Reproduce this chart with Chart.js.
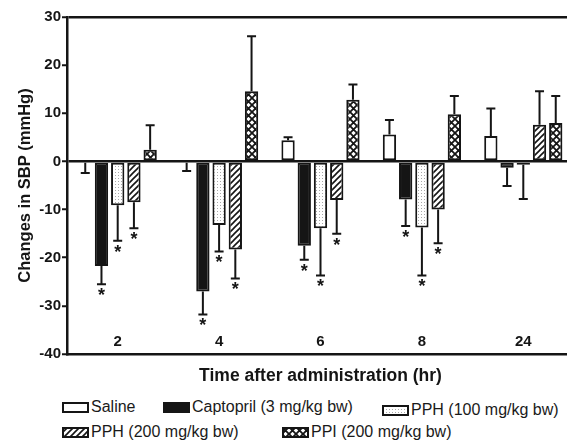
<!DOCTYPE html>
<html>
<head>
<meta charset="utf-8">
<script src="https://cdn.jsdelivr.net/npm/chart.js@4/dist/chart.umd.min.js"></script>
<style>
    body { margin: 0; width: 567px; height: 443px; overflow: hidden; background: #fff; position: relative;
           font-family: "Liberation Sans", Arial, sans-serif; }
    #wrap { position: absolute; left: 0; top: 0; width: 574px; height: 392px; }
    .item { position: absolute; display: flex; align-items: center; font-size: 16px; color: #1a1a1a; white-space: nowrap; height: 16px; }
    .item canvas { margin-right: 2px; }
</style>
</head>
<body>
<div id="wrap"><canvas id="chart" width="574" height="392"></canvas></div>
<div id="legend"></div>
<script>
const timePoints = ["2", "4", "6", "8", "24"];
const seriesNames = ["Saline", "Captopril (3 mg/kg bw)", "PPH (100 mg/kg bw)", "PPH (200 mg/kg bw)", "PPI (200 mg/kg bw)"];
const yTicks = [-40, -30, -20, -10, 0, 10, 20, 30];

// mean change and SEM for each group
const saline = [-0.3, -0.3, 4.4, 5.6, 5.3];
const salineErr = [2.1, 1.7, 0.6, 3.0, 5.7];
const captopril = [-21.7, -27.0, -17.5, -7.9, -1.3];
const captoprilErr = [3.8, 4.8, 2.9, 5.5, 3.8];
const pph100 = [-9.1, -13.2, -13.9, -13.7, -0.7];
const pph100Err = [7.4, 5.5, 9.8, 10.0, 7.1];
const pph200 = [-8.5, -18.3, -8.0, -10.0, 7.6];
const pph200Err = [5.4, 6.0, 7.0, 7.0, 7.0];
const ppi = [2.4, 14.6, 12.8, 9.8, 8.0];
const ppiErr = [5.1, 11.4, 3.2, 3.8, 5.6];

// significance marks (*)
const salineSig = [false, false, false, false, false];
const captoprilSig = [true, true, true, true, false];
const pph100Sig = [true, true, true, true, false];
const pph200Sig = [true, true, true, true, false];
const ppiSig = [false, false, false, false, false];

const ink = "#151515";
const fontFamily = "'Liberation Sans', Arial, sans-serif";

function makePattern(kind) {
    const c = document.createElement("canvas");
    const g = c.getContext("2d");
    if (kind === "dots") {
        c.width = 3; c.height = 3;
        g.fillStyle = "#fff"; g.fillRect(0, 0, 3, 3);
        g.fillStyle = "#a8a8a8"; g.fillRect(1, 1, 1, 1);
    } else if (kind === "hatch") {
        c.width = 6; c.height = 6;
        g.fillStyle = "#fff"; g.fillRect(0, 0, 6, 6);
        g.strokeStyle = ink; g.lineWidth = 1.6;
        g.beginPath();
        g.moveTo(-1, 7); g.lineTo(7, -1);
        g.moveTo(-1, 1); g.lineTo(1, -1);
        g.moveTo(5, 7); g.lineTo(7, 5);
        g.stroke();
    } else if (kind === "cross") {
        c.width = 7; c.height = 7;
        g.fillStyle = "#fff"; g.fillRect(0, 0, 7, 7);
        g.strokeStyle = ink; g.lineWidth = 1.8;
        g.beginPath();
        g.moveTo(0, 0); g.lineTo(7, 7);
        g.moveTo(7, 0); g.lineTo(0, 7);
        g.stroke();
    }
    return g.createPattern(c, "repeat");
}

const fills = ["#fff", ink, makePattern("dots"), makePattern("hatch"), makePattern("cross")];
const values = [saline, captopril, pph100, pph200, ppi];
const errors = [salineErr, captoprilErr, pph100Err, pph200Err, ppiErr];
const sigs = [salineSig, captoprilSig, pph100Sig, pph200Sig, ppiSig];

const datasets = seriesNames.map((name, i) => ({
    label: name,
    data: values[i],
    errors: errors[i],
    sig: sigs[i],
    backgroundColor: fills[i],
    borderColor: ink,
    borderWidth: 2,
    borderSkipped: false,
    barPercentage: 0.82,
    categoryPercentage: 0.8
}));

// error bars pointing away from zero, with * under the significant ones
const errorBarPlugin = {
    id: "errorBars",
    afterDatasetsDraw(chart) {
        const ctx = chart.ctx;
        const y = chart.scales.y;
        chart.data.datasets.forEach((ds, i) => {
            const meta = chart.getDatasetMeta(i);
            meta.data.forEach((bar, j) => {
                const v = ds.data[j];
                const end = v < 0 ? v - ds.errors[j] : v + ds.errors[j];
                const yEnd = y.getPixelForValue(end);
                ctx.save();
                ctx.strokeStyle = ink;
                ctx.lineWidth = 2;
                ctx.beginPath();
                ctx.moveTo(bar.x, bar.y);
                ctx.lineTo(bar.x, yEnd);
                ctx.moveTo(bar.x - 4.5, yEnd);
                ctx.lineTo(bar.x + 4.5, yEnd);
                ctx.stroke();
                if (ds.sig[j]) {
                    ctx.fillStyle = ink;
                    ctx.font = "bold 18px " + fontFamily;
                    ctx.textAlign = "center";
                    ctx.textBaseline = "top";
                    ctx.fillText("*", bar.x, yEnd + 3);
                }
                ctx.restore();
            });
        });
    }
};

new Chart(document.getElementById("chart").getContext("2d"), {
    type: "bar",
    data: { labels: timePoints, datasets: datasets },
    plugins: [errorBarPlugin],
    options: {
        responsive: false,
        devicePixelRatio: 1,
        animation: false,
        layout: { padding: { top: 17, left: 16, right: 0, bottom: 0 } },
        plugins: { legend: { display: false }, tooltip: { enabled: false } },
        scales: {
            x: {
                grid: { display: false },
                border: { color: ink, width: 2.5 },
                ticks: { color: ink, font: { family: fontFamily, size: 15, weight: "bold" }, mirror: true, padding: 3 },
                title: {
                    display: true,
                    text: "Time after administration (hr)",
                    color: ink,
                    font: { family: fontFamily, size: 17.5, weight: "bold" },
                    padding: { top: 0, bottom: 5 }
                },
                afterFit(scale) { scale.height = 38; }
            },
            y: {
                min: -40,
                max: 30,
                afterBuildTicks(scale) { scale.ticks = yTicks.map(v => ({ value: v })); },
                grid: {
                    drawOnChartArea: true,
                    // zero line and the top frame line only
                    color: c => (c.tick && (c.tick.value === 0 || c.tick.value === 30)) ? ink : "rgba(0,0,0,0)",
                    lineWidth: 2.5,
                    tickColor: ink,
                    tickWidth: 2,
                    tickLength: 5
                },
                border: { color: ink, width: 2.5 },
                ticks: { color: ink, font: { family: fontFamily, size: 15, weight: "bold" }, padding: 1 },
                title: {
                    display: true,
                    text: "Changes in SBP (mmHg)",
                    color: ink,
                    font: { family: fontFamily, size: 16.5, weight: "bold" },
                    padding: { top: 0, bottom: 0 }
                },
                afterFit(scale) { scale.width = 51; }
            }
        }
    }
});

// legend laid out like the figure: two rows, uneven spacing
const legendSpots = [
    { left: 62, top: 399 },
    { left: 163, top: 399 },
    { left: 382, top: 402 },
    { left: 62, top: 424 },
    { left: 282, top: 424 }
];
const legend = document.getElementById("legend");
seriesNames.forEach((name, i) => {
    const item = document.createElement("div");
    item.className = "item";
    item.style.left = legendSpots[i].left + "px";
    item.style.top = legendSpots[i].top + "px";
    const sw = document.createElement("canvas");
    sw.width = 27; sw.height = 11;
    const g = sw.getContext("2d");
    g.fillStyle = fills[i];
    g.fillRect(0, 0, 27, 11);
    g.strokeStyle = ink;
    g.lineWidth = 2;
    g.strokeRect(1, 1, 25, 9);
    item.appendChild(sw);
    const label = document.createElement("span");
    label.textContent = name;
    item.appendChild(label);
    legend.appendChild(item);
});
</script>
</body>
</html>
